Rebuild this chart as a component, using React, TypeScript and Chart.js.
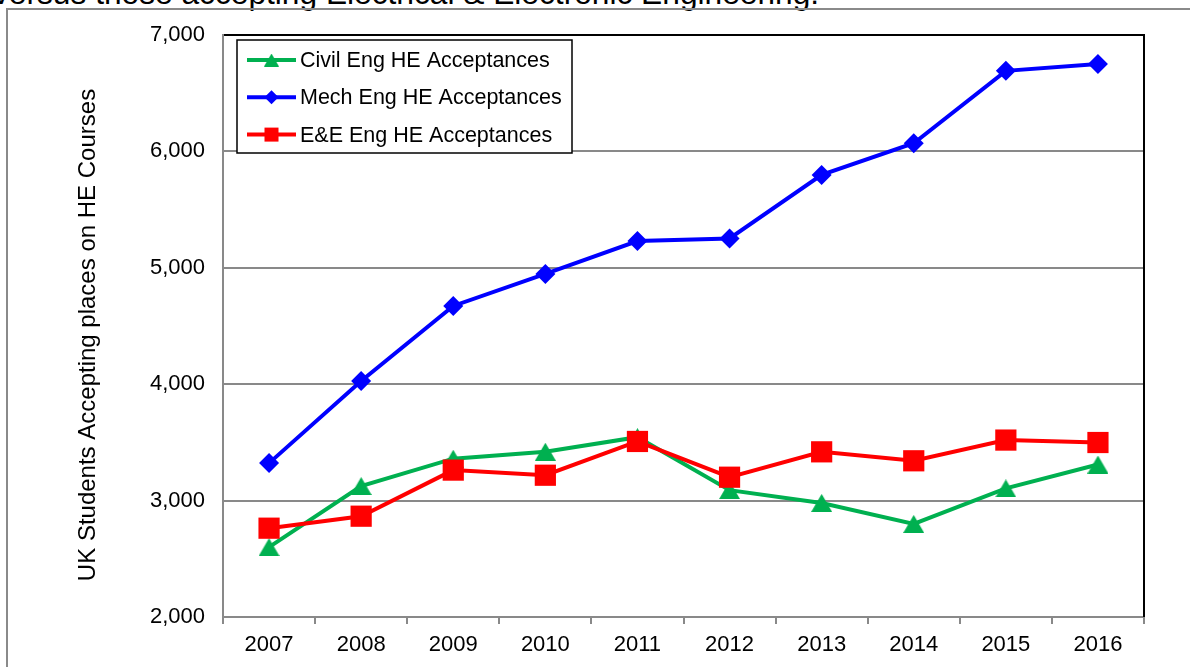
import React, { useEffect, useRef } from "react";
import { Chart, registerables } from "chart.js";

Chart.register(...registerables);

// ---- Data ----
const years = ["2007", "2008", "2009", "2010", "2011", "2012", "2013", "2014", "2015", "2016"];
const civilEng = [2600, 3125, 3360, 3420, 3545, 3090, 2980, 2800, 3105, 3310];
const mechEng = [3322, 4028, 4672, 4947, 5230, 5252, 5798, 6070, 6692, 6750];
const eeEng = [2763, 2866, 3262, 3218, 3508, 3201, 3419, 3342, 3520, 3499];
const yTicks = [2000, 3000, 4000, 5000, 6000, 7000];
const seriesLabels = ["Civil Eng HE Acceptances", "Mech Eng HE Acceptances", "E&E Eng HE Acceptances"];
const yAxisTitle = "UK Students Accepting places on HE Courses";
const headerText = "versus those accepting Electrical & Electronic Engineering.";

const FONT = '"Liberation Sans", Arial, sans-serif';
const GREEN = "#00B050";
const BLUE = "#0000FF";
const RED = "#FF0000";
const GRID = "#898989";

function makeTriangle(w: number, h: number, color: string): HTMLCanvasElement {
  const c = document.createElement("canvas");
  c.width = w;
  c.height = h;
  const g = c.getContext("2d")!;
  g.fillStyle = color;
  g.beginPath();
  g.moveTo(w / 2, 0);
  g.lineTo(w, h);
  g.lineTo(0, h);
  g.closePath();
  g.fill();
  return c;
}

const decorPlugin = {
  id: "decor",
  afterDraw(chart: any) {
    const { ctx, chartArea: a } = chart;
    ctx.save();
    // plot-area right border
    ctx.strokeStyle = "#000";
    ctx.lineWidth = 2;
    ctx.beginPath();
    ctx.moveTo(a.right, a.top - 1);
    ctx.lineTo(a.right, a.bottom);
    ctx.stroke();

    // y-axis title
    ctx.save();
    ctx.translate(88, 335);
    ctx.rotate(-Math.PI / 2);
    ctx.font = `24px ${FONT}`;
    ctx.fillStyle = "#000";
    ctx.textAlign = "center";
    ctx.textBaseline = "middle";
    ctx.fillText(yAxisTitle, 0, 0);
    ctx.restore();

    // legend box
    const bx = a.left + 14;
    const by = a.top + 5;
    const bw = 335;
    const bh = 113;
    ctx.fillStyle = "#fff";
    ctx.fillRect(bx, by, bw, bh);
    ctx.strokeStyle = "#000";
    ctx.lineWidth = 1.5;
    ctx.strokeRect(bx, by, bw, bh);

    const ds = chart.data.datasets;
    ctx.font = `21.5px ${FONT}`;
    ctx.textAlign = "left";
    ctx.textBaseline = "middle";
    ds.forEach((d: any, i: number) => {
      const y = by + 20 + i * 37.3;
      const x0 = bx + 10;
      const x1 = bx + 59;
      const cx = (x0 + x1) / 2;
      ctx.strokeStyle = d.borderColor;
      ctx.lineWidth = 4;
      ctx.beginPath();
      ctx.moveTo(x0, y);
      ctx.lineTo(x1, y);
      ctx.stroke();
      ctx.fillStyle = d.borderColor;
      if (d.legendMarker === "triangle") {
        const t = makeTriangle(15, 13, d.borderColor);
        ctx.drawImage(t, cx - 7.5, y - 6.5);
      } else if (d.legendMarker === "diamond") {
        ctx.beginPath();
        ctx.moveTo(cx - 7, y);
        ctx.lineTo(cx, y - 7);
        ctx.lineTo(cx + 7, y);
        ctx.lineTo(cx, y + 7);
        ctx.closePath();
        ctx.fill();
      } else {
        ctx.fillRect(cx - 7, y - 7, 14, 14);
      }
      ctx.fillStyle = "#000";
      ctx.fillText(d.label, bx + 63, y + 1);
    });
    ctx.restore();
  },
};

export default function App() {
  const canvasRef = useRef<HTMLCanvasElement | null>(null);

  useEffect(() => {
    if (!canvasRef.current) return;
    const tri = makeTriangle(21, 18, GREEN);
    const chart = new Chart(canvasRef.current, {
      type: "line",
      data: {
        labels: years,
        datasets: [
          {
            label: seriesLabels[0],
            data: civilEng,
            borderColor: GREEN,
            backgroundColor: GREEN,
            borderWidth: 4,
            pointStyle: tri,
            pointRadius: 10,
            pointBorderWidth: 0,
            order: 2,
            legendMarker: "triangle",
          } as any,
          {
            label: seriesLabels[1],
            data: mechEng,
            borderColor: BLUE,
            backgroundColor: BLUE,
            borderWidth: 4,
            pointStyle: "rectRot",
            pointRadius: 10,
            pointBorderWidth: 0,
            order: 1,
            legendMarker: "diamond",
          } as any,
          {
            label: seriesLabels[2],
            data: eeEng,
            borderColor: RED,
            backgroundColor: RED,
            borderWidth: 4,
            pointStyle: "rect",
            pointRadius: 15,
            pointBorderWidth: 0,
            order: 0,
            legendMarker: "square",
          } as any,
        ],
      },
      options: {
        responsive: false,
        animation: false,
        layout: { padding: { top: 35, right: 46, left: 0, bottom: 0 } },
        plugins: {
          legend: { display: false },
          tooltip: { enabled: false },
          title: { display: false },
        },
        scales: {
          x: {
            type: "category",
            offset: true,
            grid: {
              display: true,
              drawOnChartArea: false,
              drawTicks: true,
              tickLength: 7,
              color: GRID,
              lineWidth: 2,
              offset: true,
            },
            border: { display: true, color: GRID, width: 2 },
            ticks: {
              color: "#000",
              font: { family: FONT, size: 22 },
              padding: 8,
              maxRotation: 0,
              autoSkip: false,
            },
            afterFit: (s: any) => {
              s.height = 50;
            },
          },
          y: {
            min: yTicks[0],
            max: yTicks[yTicks.length - 1],
            afterBuildTicks: (s: any) => {
              s.ticks = yTicks.map((v) => ({ value: v }));
            },
            ticks: {
              color: "#000",
              font: { family: FONT, size: 22 },
              padding: 18,
              callback: (v: any) => Number(v).toLocaleString("en-US"),
            },
            grid: {
              drawTicks: false,
              color: (c: any) => (c.tick && c.tick.value === yTicks[yTicks.length - 1] ? "#000" : GRID),
              lineWidth: 2,
            },
            border: { display: true, color: GRID, width: 2 },
            afterFit: (s: any) => {
              s.width = 223;
            },
          },
        },
      } as any,
      plugins: [decorPlugin],
    });
    return () => chart.destroy();
  }, []);

  return (
    <div
      style={{
        position: "absolute",
        left: 0,
        top: 0,
        width: 1190,
        height: 667,
        overflow: "hidden",
        background: "#fff",
      }}
    >
      <div
        style={{
          position: "absolute",
          left: -7,
          top: -22,
          whiteSpace: "nowrap",
          font: `31.7px ${FONT}`,
          lineHeight: "31px",
          color: "#000",
        }}
      >
        {headerText}
      </div>
      <div
        style={{
          position: "absolute",
          left: 6,
          top: 8,
          width: 1400,
          height: 900,
          border: "2px solid #8a8a8a",
          boxSizing: "border-box",
        }}
      />
      <canvas
        ref={canvasRef}
        width={1190}
        height={667}
        style={{ position: "absolute", left: 0, top: 0, width: 1190, height: 667 }}
      />
    </div>
  );
}
